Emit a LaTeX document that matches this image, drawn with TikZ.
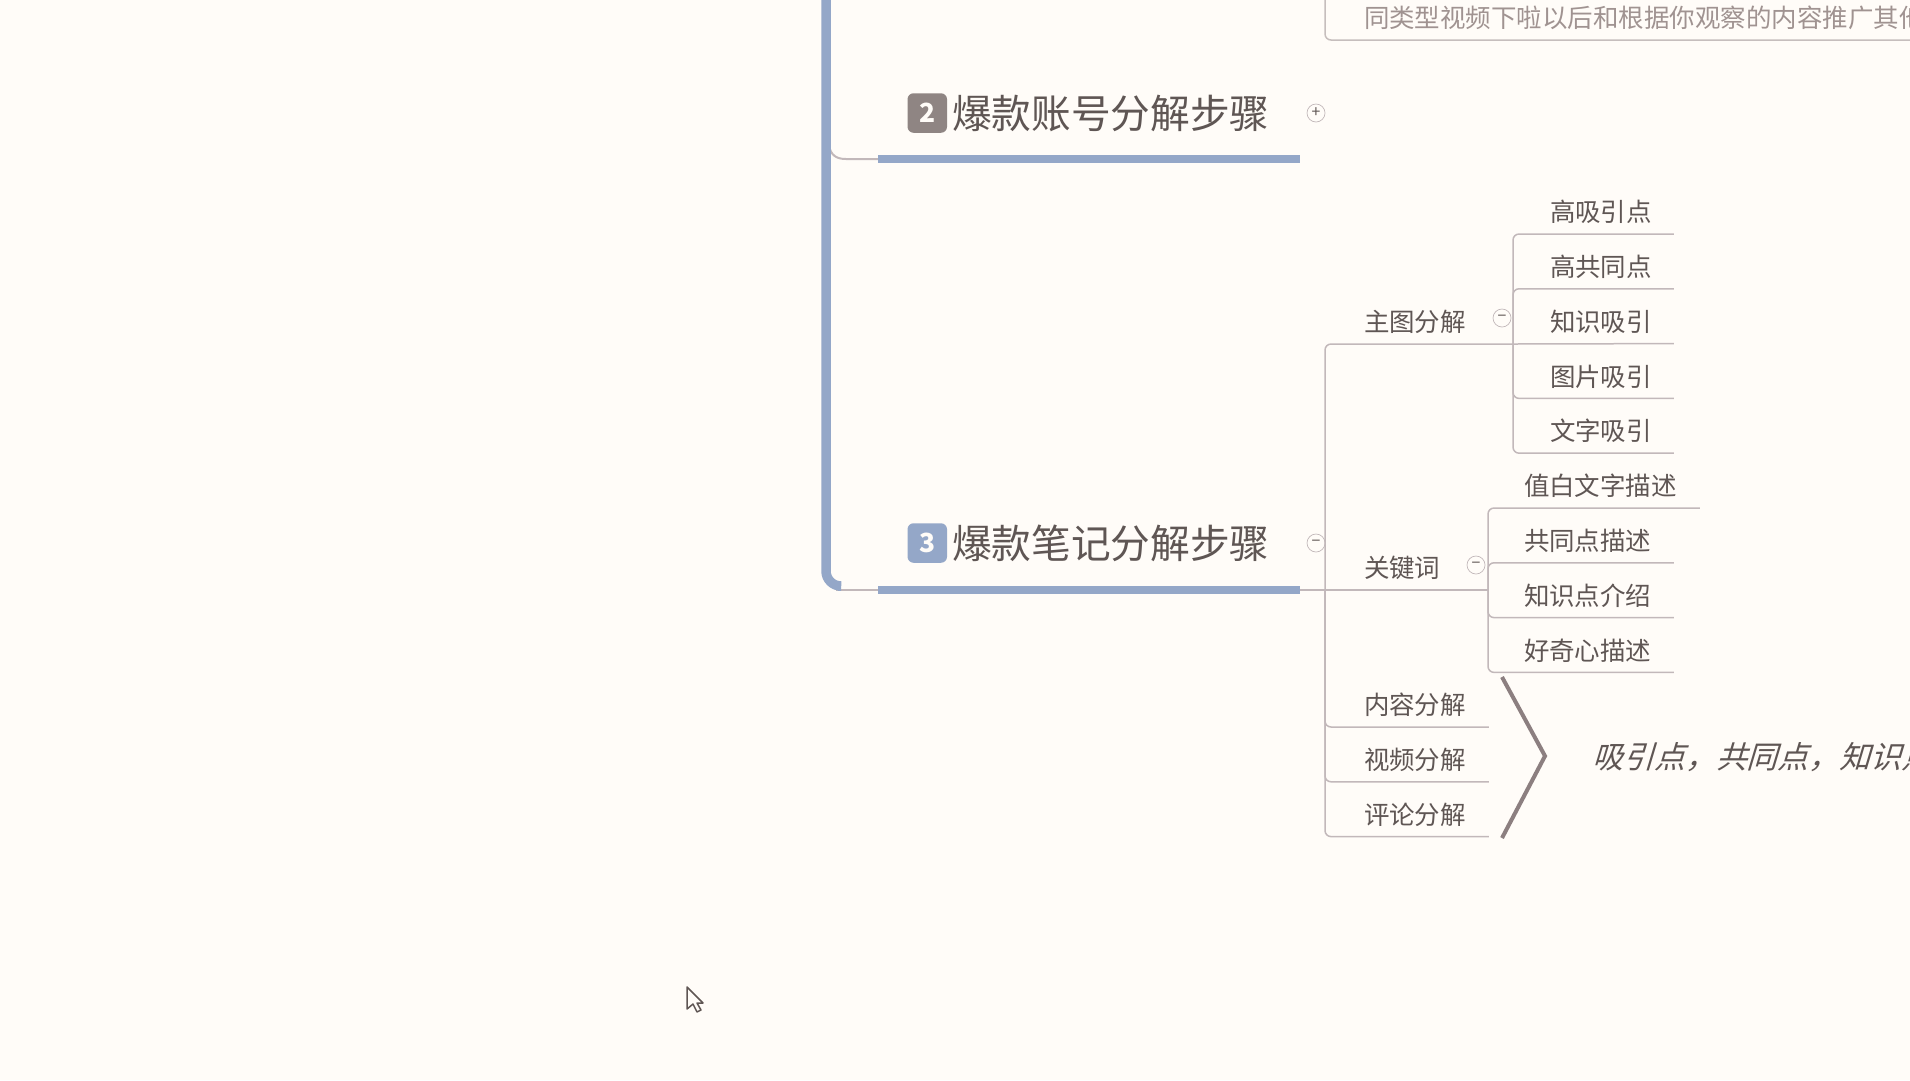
\documentclass[tikz,border=0pt]{standalone}
\usepackage{fontspec}
\setmainfont{Noto Sans CJK SC}
\newfontfamily\slantfont[FakeSlant=0.3]{Noto Sans CJK SC}
\usetikzlibrary{positioning, arrows.meta}
\usepackage{xcolor}
\definecolor{paper}{HTML}{FFFCF8}
\definecolor{ink}{HTML}{5F5654}
\definecolor{faded}{HTML}{A09391}
\definecolor{trunkblue}{HTML}{94A7C8}
\definecolor{badgegray}{HTML}{8F8583}
\definecolor{twigline}{HTML}{C2B8BA}
\definecolor{chevron}{HTML}{8C7F80}

\begin{document}
\begin{tikzpicture}[
      x=0.02cm, y=-0.02cm,
      node distance=0.216cm and 0.1cm,
      title/.style={inner sep=0pt, outer sep=0pt, text=ink, font=\fontsize{22.6}{26}\selectfont},
      badge/.style={rectangle, rounded corners=0.12cm, minimum size=0.79cm, inner sep=0pt, outer sep=0pt,
                    text=paper, font=\bfseries\fontsize{15}{18}\selectfont},
      leaf/.style={rectangle, inner sep=0pt, outer sep=0pt, minimum height=0.88cm, align=left,
                   text=ink, font=\fontsize{14.5}{17}\selectfont},
      hub/.style={leaf, text width=2.98cm},
      toggle/.style={circle, draw=twigline, minimum size=0.36cm, inner sep=0pt,
                     text=ink, font=\fontsize{9}{9}\selectfont},
      twig/.style={draw=twigline, line width=0.03cm, rounded corners=0.12cm},
      bar/.style={draw=trunkblue, line width=0.16cm},
      trunk/.style={draw=trunkblue, line width=0.19cm, rounded corners=0.3cm},
    ]
    \path[use as bounding box, clip] (0,0) rectangle (1910,1080);
    \fill[paper] (0,0) rectangle (1910,1080);

    \coordinate (trunktop) at (826,-10);
    \coordinate (trunkend) at (838,586);
    \coordinate (join2) at (829,146);
    \coordinate (join2b) at (846,159);
    \coordinate (join3) at (836,590);
    \coordinate (bar2l) at (878,159);
    \coordinate (bar2r) at (1300,159);
    \coordinate (bar3l) at (878,590);
    \coordinate (bar3r) at (1300,590);
    \coordinate (forkmain) at (1325,590);
    \coordinate (forktop) at (1325,-10);
    \coordinate (forkzt) at (1513,344);
    \coordinate (forkkw) at (1488,590);

    \node[title, anchor=west] (title2) at (952,113) {爆款账号分解步骤};
    \node[badge, fill=badgegray, left=of title2] (badge2) {2};
    \node[toggle] (toggle2) at (1316,113) {+};
    \node[title, anchor=west] (title3) at (952,543) {爆款笔记分解步骤};
    \node[badge, fill=trunkblue, left=of title3] (badge3) {3};
    \node[toggle] (toggle3) at (1316,543) {−};

    \node[leaf, anchor=south west, text=faded] (topline) at (1364,40)
      {同类型视频下啦以后和根据你观察的内容推广其他};

    \node[hub, anchor=south west] (zhutu) at (1364,344) {主图分解};
    \node[toggle] (togglezt) at (1502,318) {−};
    \node[leaf, text width=2.48cm, anchor=south west] (zt1) at (1550,234) {高吸引点};
    \node[leaf, text width=2.48cm, below=of zt1] (zt2) {高共同点};
    \node[leaf, text width=2.48cm, below=of zt2] (zt3) {知识吸引};
    \node[leaf, text width=2.48cm, below=of zt3] (zt4) {图片吸引};
    \node[leaf, text width=2.48cm, below=of zt4] (zt5) {文字吸引};

    \node[leaf, text width=2.48cm, anchor=south west] (guanjian) at (1364,590) {关键词};
    \node[toggle] (togglekw) at (1476,565) {−};
    \node[leaf, text width=3.52cm, anchor=south west] (kw1) at (1524,508) {值白文字描述};
    \node[leaf, text width=3cm, below=of kw1.south west, anchor=north west] (kw2) {共同点描述};
    \node[leaf, text width=3cm, below=of kw2] (kw3) {知识点介绍};
    \node[leaf, text width=3cm, below=of kw3] (kw4) {好奇心描述};

    \node[leaf, text width=2.5cm, anchor=south west] (neirong) at (1364,727) {内容分解};
    \node[leaf, text width=2.5cm, below=of neirong] (shipin) {视频分解};
    \node[leaf, text width=2.5cm, below=of shipin] (pinglun) {评论分解};

    \node[inner sep=0pt, anchor=west, text=ink, font=\slantfont\fontsize{17.6}{21}\selectfont] (summary)
      at (1592,757) {吸引点，共同点，知识点};

    \draw[draw=twigline, line width=0.04cm] (join2) .. controls (831,155) and (836,159) .. (join2b) -- (bar2l);
    \draw[twig] (join3) -- (bar3l);
    \draw[trunk] (trunktop) |- (trunkend);
    \draw[bar] (bar2l) -- (bar2r);
    \draw[bar] (bar3l) -- (bar3r);
    \draw[twig] (bar3r) -- (forkkw);

    \draw[twig, draw=faded!60] (forktop) |- (topline.south east);

    \draw[twig] (forkmain) |- (zhutu.south east);
    \draw[twig] (forkmain) |- (neirong.south east);
    \draw[twig] (forkmain) |- (shipin.south east);
    \draw[twig] (forkmain) |- (pinglun.south east);

    \draw[twig] (forkzt) |- (zt1.south east);
    \draw[twig] (forkzt) |- (zt2.south east);
    \draw[twig] (forkzt) -- (zt3.south east);
    \draw[twig] (forkzt) |- (zt4.south east);
    \draw[twig] (forkzt) |- (zt5.south east);

    \draw[twig] (forkkw) |- (kw1.south east);
    \draw[twig] (forkkw) |- (kw2.south east);
    \draw[twig] (forkkw) |- (kw3.south east);
    \draw[twig] (forkkw) |- (kw4.south east);

    \draw[draw=chevron, line width=0.08cm] (1502,677) -- (1545,756) -- (1502,838);

    \draw[draw=ink, fill=paper, line width=0.03cm, line join=round]
      (687,987) -- (687,1009) -- (693,1004) -- (697,1012) -- (701,1010) -- (697,1003) -- (703,1003) -- cycle;
  \end{tikzpicture}
\end{document}
